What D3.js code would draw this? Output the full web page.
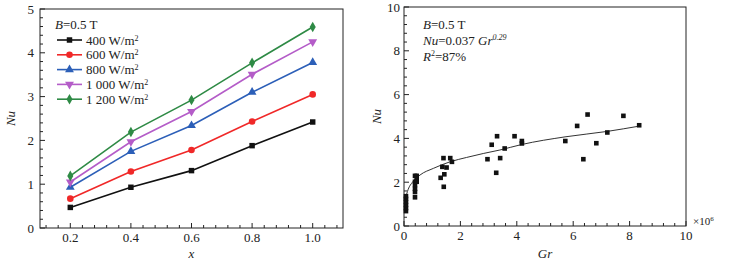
<!DOCTYPE html>
<html>
<head>
<meta charset="utf-8">
<script src="https://cdn.jsdelivr.net/npm/d3@7"></script>
<style>
  body { margin: 0; background: #fff; }
  svg text { font-family: "Liberation Serif", "Times New Roman", serif; fill: #222; }
</style>
</head>
<body>
<svg id="chart" width="732" height="265"></svg>
<script>
// ---- left panel data: Nu vs x for each heat flux ----
const xValues = [0.2, 0.4, 0.6, 0.8, 1.0];
const seriesNames = ["400 W/m", "600 W/m", "800 W/m", "1 000 W/m", "1 200 W/m"];
const nu400 = [0.47, 0.93, 1.31, 1.88, 2.42];
const nu600 = [0.67, 1.29, 1.78, 2.43, 3.05];
const nu800 = [0.93, 1.75, 2.34, 3.10, 3.78];
const nu1000 = [1.05, 1.97, 2.66, 3.51, 4.25];
const nu1200 = [1.19, 2.19, 2.92, 3.77, 4.59];
const leftXTicks = [0.2, 0.4, 0.6, 0.8, 1.0];
const leftYTicks = [0, 1, 2, 3, 4, 5];

// ---- right panel data: Nu vs Gr (x10^6) ----
const grPoints = [0.07, 0.07, 0.07, 0.07, 0.07, 0.07,
  0.39, 0.39, 0.39, 0.39, 0.39, 0.39, 0.45, 0.45, 0.45,
  1.30, 1.36, 1.40, 1.41, 1.43, 1.51, 1.64, 1.70,
  2.96, 3.11, 3.27, 3.30, 3.41, 3.57, 3.92, 4.18, 4.18,
  5.72, 6.14, 6.36, 6.51, 6.82, 7.21, 7.78, 8.34];
const nuPoints = [0.68, 0.82, 0.96, 1.10, 1.24, 1.36,
  1.31, 1.55, 1.70, 1.87, 2.02, 2.29, 2.29, 2.15, 2.02,
  2.20, 2.70, 3.10, 1.79, 2.36, 2.67, 3.10, 2.93,
  3.05, 3.71, 2.43, 4.10, 3.10, 3.54, 4.10, 3.77, 3.88,
  3.88, 4.57, 3.05, 5.09, 3.78, 4.27, 5.03, 4.60];
// fitted curve
const fitGr = [0.04, 0.15, 0.3, 0.57, 1.04, 1.63, 2.22, 2.81, 3.4, 4.17, 5.71, 7.21, 8.34];
const fitNu = [1.2, 1.68, 2.0, 2.33, 2.63, 2.93, 3.13, 3.31, 3.47, 3.72, 4.07, 4.32, 4.56];
const rightXTicks = [0, 2, 4, 6, 8, 10];
const rightYTicks = [0, 2, 4, 6, 8, 10];

const svg = d3.select("#chart");

// ==============================
// LEFT PANEL
// ==============================
const L = { left: 40, right: 343, top: 9, bottom: 228 };
const xL = d3.scaleLinear().domain([0.1, 1.1]).range([L.left, L.right]);
const yL = d3.scaleLinear().domain([0, 5]).range([L.bottom, L.top]);

function drawFrame(b) {
  svg.append("rect")
    .attr("x", b.left).attr("y", b.top)
    .attr("width", b.right - b.left).attr("height", b.bottom - b.top)
    .attr("fill", "none").attr("stroke", "#222").attr("stroke-width", 1);
}

function drawTicks(b, xs, ys, xMajor, yMajor, xMinor, yMinor, xFmt, yFmt, labelOffX, labelOffY) {
  const g = svg.append("g");
  xMinor.forEach(v => {
    g.append("line").attr("x1", xs(v)).attr("x2", xs(v))
      .attr("y1", b.bottom).attr("y2", b.bottom - 3).attr("stroke", "#222");
  });
  yMinor.forEach(v => {
    g.append("line").attr("y1", ys(v)).attr("y2", ys(v))
      .attr("x1", b.left).attr("x2", b.left + 3).attr("stroke", "#222");
  });
  xMajor.forEach(v => {
    g.append("line").attr("x1", xs(v)).attr("x2", xs(v))
      .attr("y1", b.bottom).attr("y2", b.bottom - 5).attr("stroke", "#222");
    g.append("text").attr("x", xs(v)).attr("y", b.bottom + labelOffY)
      .attr("text-anchor", "middle").attr("font-size", 13).text(xFmt(v));
  });
  yMajor.forEach(v => {
    g.append("line").attr("y1", ys(v)).attr("y2", ys(v))
      .attr("x1", b.left).attr("x2", b.left + 5).attr("stroke", "#222");
    g.append("text").attr("x", b.left - labelOffX).attr("y", ys(v) + 4.5)
      .attr("text-anchor", "end").attr("font-size", 13).text(yFmt(v));
  });
}

drawFrame(L);
const leftXMinor = d3.range(0.12, 1.1, 0.04).filter(v => Math.abs(v / 0.2 - Math.round(v / 0.2)) > 0.01);
const leftYMinor = d3.range(0.2, 5, 0.2).filter(v => Math.abs(v - Math.round(v)) > 0.01);
drawTicks(L, xL, yL, leftXTicks, leftYTicks, leftXMinor, leftYMinor,
  d3.format(".1f"), d3.format("d"), 6, 14);

// axis titles
svg.append("text").attr("x", (L.left + L.right) / 2).attr("y", 258)
  .attr("text-anchor", "middle").attr("font-size", 13).attr("font-style", "italic").text("x");
svg.append("text").attr("transform", `translate(15,${(L.top + L.bottom) / 2}) rotate(-90)`)
  .attr("text-anchor", "middle").attr("font-size", 13).attr("font-style", "italic").text("Nu");

const colors = ["#111111", "#f02828", "#2c5fb8", "#b45cc8", "#2e8a45"];
const allSeries = [nu400, nu600, nu800, nu1000, nu1200];
const symbols = [d3.symbolSquare, d3.symbolCircle, d3.symbolTriangle, "down", d3.symbolDiamond];

function marker(g, i, x, y) {
  if (symbols[i] === "down") {
    g.append("path")
      .attr("d", d3.symbol().type(d3.symbolTriangle).size(34)())
      .attr("transform", `translate(${x},${y}) rotate(180)`)
      .attr("fill", colors[i]);
  } else {
    const size = [30, 34, 34, 0, 32][i];
    g.append("path")
      .attr("d", d3.symbol().type(symbols[i]).size(size)())
      .attr("transform", `translate(${x},${y})`)
      .attr("fill", colors[i]);
  }
}

const line = d3.line().x((d, i) => xL(xValues[i])).y(d => yL(d));
allSeries.forEach((s, i) => {
  const g = svg.append("g");
  g.append("path").datum(s).attr("d", line)
    .attr("fill", "none").attr("stroke", colors[i]).attr("stroke-width", 1.6);
  s.forEach((v, j) => marker(g, i, xL(xValues[j]), yL(v)));
});

// legend
const lg = svg.append("g");
const bText = lg.append("text").attr("x", 55).attr("y", 29).attr("font-size", 13);
bText.append("tspan").attr("font-style", "italic").text("B");
bText.append("tspan").text("=0.5 T");
seriesNames.forEach((name, i) => {
  const y = 40 + i * 14.8;
  lg.append("line").attr("x1", 57).attr("x2", 82).attr("y1", y).attr("y2", y)
    .attr("stroke", colors[i]).attr("stroke-width", 1.6);
  marker(lg, i, 69.5, y);
  const t = lg.append("text").attr("x", 86).attr("y", y + 4.5).attr("font-size", 13);
  t.append("tspan").text(name);
  t.append("tspan").attr("font-size", 8).attr("dy", -4).text("2");
});

// ==============================
// RIGHT PANEL
// ==============================
const R = { left: 404, right: 686, top: 7, bottom: 226 };
const xR = d3.scaleLinear().domain([0, 10]).range([R.left, R.right]);
const yR = d3.scaleLinear().domain([0, 10]).range([R.bottom, R.top]);

drawFrame(R);
const rMinor = d3.range(0.4, 10, 0.4).filter(v => Math.abs(v / 2 - Math.round(v / 2)) > 0.01);
drawTicks(R, xR, yR, rightXTicks, rightYTicks, rMinor, rMinor,
  d3.format("d"), d3.format("d"), 4, 14);

svg.append("text").attr("x", 693).attr("y", 225).attr("font-size", 11).attr("fill", "#444")
  .text("×10")
  .append("tspan").attr("font-size", 7).attr("dy", -4).text("6");

svg.append("text").attr("x", (R.left + R.right) / 2).attr("y", 258)
  .attr("text-anchor", "middle").attr("font-size", 13).attr("font-style", "italic").text("Gr");
svg.append("text").attr("transform", `translate(381,${(R.top + R.bottom) / 2}) rotate(-90)`)
  .attr("text-anchor", "middle").attr("font-size", 13).attr("font-style", "italic").text("Nu");

// fit curve
const fitLine = d3.line().x((d, i) => xR(fitGr[i])).y(d => yR(d)).curve(d3.curveMonotoneX);
svg.append("path").datum(fitNu).attr("d", fitLine)
  .attr("fill", "none").attr("stroke", "#333").attr("stroke-width", 1);

// scatter
svg.append("g").selectAll("rect")
  .data(nuPoints)
  .join("rect")
  .attr("x", (d, i) => xR(grPoints[i]) - 2.3)
  .attr("y", d => yR(d) - 2.3)
  .attr("width", 4.6).attr("height", 4.6)
  .attr("fill", "#111");

// annotation
const ann = svg.append("g").attr("font-size", 13);
const a1 = ann.append("text").attr("x", 423).attr("y", 29);
a1.append("tspan").attr("font-style", "italic").text("B");
a1.append("tspan").text("=0.5 T");
const a2 = ann.append("text").attr("x", 423).attr("y", 44.5);
a2.append("tspan").attr("font-style", "italic").text("Nu");
a2.append("tspan").text("=0.037 ");
a2.append("tspan").attr("font-style", "italic").text("Gr");
a2.append("tspan").attr("font-size", 8).attr("font-style", "italic").attr("dy", -5).text("0.29");
const a3 = ann.append("text").attr("x", 423).attr("y", 61);
a3.append("tspan").attr("font-style", "italic").text("R");
a3.append("tspan").attr("font-size", 8).attr("dy", -5).text("2");
a3.append("tspan").attr("dy", 5).text("=87%");
</script>
</body>
</html>
